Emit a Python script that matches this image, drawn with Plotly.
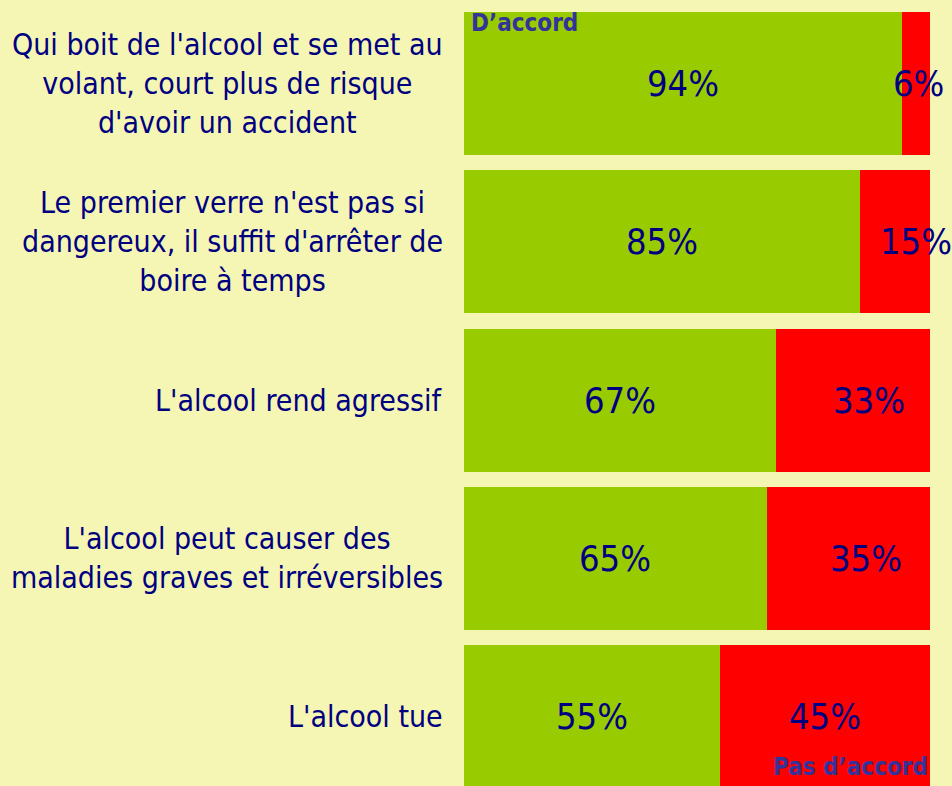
import plotly.graph_objects as go

# Survey statements (top to bottom) and shares of answers, in percent
statements = [
    "Qui boit de l'alcool et se met au<br>volant, court plus de risque<br>d'avoir un accident",
    "Le premier verre n'est pas si<br>dangereux, il suffit d'arrêter de<br>boire à temps",
    "L'alcool rend agressif",
    "L'alcool peut causer des<br>maladies graves et irréversibles",
    "L'alcool tue",
]
agree = [94, 85, 67, 65, 55]
disagree = [6, 15, 33, 35, 45]
series_names = ["D’accord", "Pas d’accord"]

# small horizontal nudges (px) for the labels on the red segments
red_label_nudge = [2, 21, 16, 18, 0]

BG = "#f6f6b4"
GREEN = "#99cc00"
RED = "#ff0000"
NAVY = "#000080"
LEGEND_BLUE = "#333399"
FONT = "Liberation Sans Narrow, DejaVu Sans Condensed, Arial Narrow, sans-serif"

cats = list(range(len(statements)))

fig = go.Figure()
fig.add_trace(go.Bar(
    y=cats, x=agree, orientation="h", name=series_names[0],
    marker=dict(color=GREEN, line=dict(width=0)), hoverinfo="skip",
))
fig.add_trace(go.Bar(
    y=cats, x=disagree, orientation="h", name=series_names[1],
    marker=dict(color=RED, line=dict(width=0)), hoverinfo="skip",
))

annotations = []
for i, (label, a, d) in enumerate(zip(statements, agree, disagree)):
    # statement text, centred block to the left of the bars
    annotations.append(dict(
        x=0, xref="paper", xanchor="right", xshift=-19,
        y=i, yref="y", yanchor="middle",
        text=label, align="center", showarrow=False,
        font=dict(family=FONT, size=30, color=NAVY),
    ))
    # value labels
    annotations.append(dict(
        x=a / 2, xref="x", y=i, yref="y",
        text=f"{a}%", showarrow=False,
        font=dict(family=FONT, size=36, color=NAVY),
    ))
    annotations.append(dict(
        x=a + d / 2, xref="x", y=i, yref="y", xshift=red_label_nudge[i],
        text=f"{d}%", showarrow=False,
        font=dict(family=FONT, size=36, color=NAVY),
    ))

# series names written on the chart
annotations.append(dict(
    x=0, xref="paper", xanchor="left", xshift=5,
    y=1 - 23 / 786, yref="paper", yanchor="middle",
    text=series_names[0], showarrow=False,
    font=dict(family=FONT, size=24, color=LEGEND_BLUE, weight="bold"),
))
annotations.append(dict(
    x=(773 - 464) / 466, xref="paper", xanchor="left", xshift=-2,
    y=1 - 767 / 786, yref="paper", yanchor="middle",
    text=series_names[1], showarrow=False,
    font=dict(family=FONT, size=24, color=LEGEND_BLUE, weight="bold"),
))

fig.update_layout(
    width=952, height=786,
    barmode="stack", bargap=0.0964,
    paper_bgcolor=BG, plot_bgcolor=BG,
    margin=dict(l=464, r=22, t=0, b=0, pad=0),
    showlegend=False,
    xaxis=dict(range=[0, 100], visible=False, fixedrange=True),
    yaxis=dict(range=[4.439, -0.528], visible=False, fixedrange=True),
    annotations=annotations,
)

fig.write_html("out.html", config={"displayModeBar": False})
